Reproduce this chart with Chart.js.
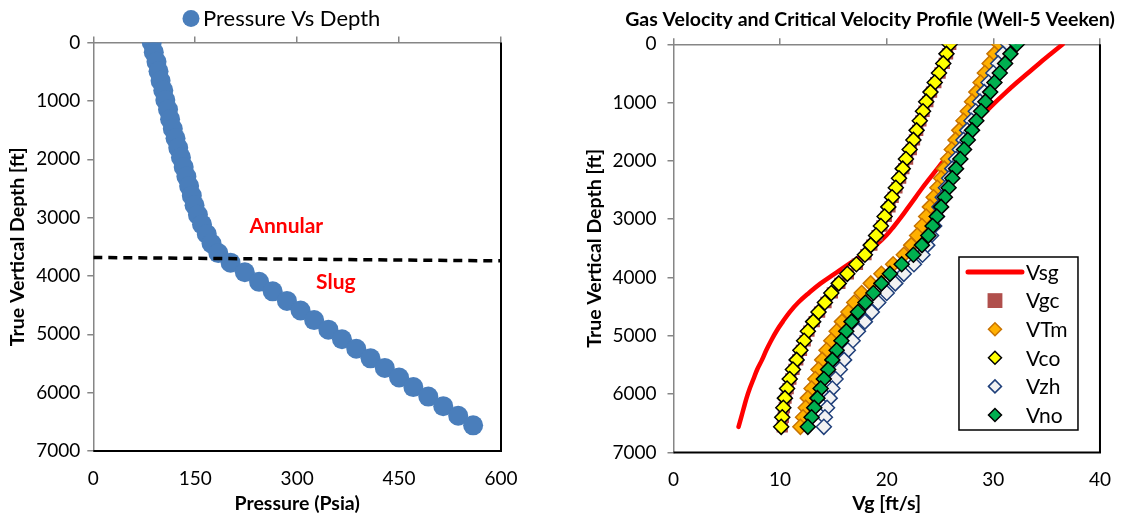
<!DOCTYPE html>
<html>
<head>
<meta charset="utf-8">
<script src="https://cdn.jsdelivr.net/npm/chart.js@4.4.0/dist/chart.umd.min.js"></script>
<style>
  body { margin: 0; background: #fff; }
  #wrap { position: relative; width: 1127px; height: 517px; }
  #wrap canvas { position: absolute; top: 0; }
  #pressChart { left: 0; }
  #velChart { left: 560px; }
</style>
</head>
<body>
<div id="wrap">
  <canvas id="pressChart" width="560" height="517"></canvas>
  <canvas id="velChart" width="567" height="517"></canvas>
</div>
<script>
// depth stations [ft], shared by both profiles
const depthFt = [0, 164, 328, 492, 656, 820, 984, 1148, 1312, 1476, 1640, 1804, 1968, 2132, 2296, 2460, 2624, 2788, 2952, 3116, 3280, 3444, 3608, 3772, 3936, 4100, 4264, 4428, 4592, 4756, 4920, 5084, 5248, 5412, 5576, 5740, 5904, 6068, 6232, 6396, 6560];

// pressure traverse [psia]
const pressurePsia = [86, 89, 93, 96, 99, 103, 106, 110, 113, 117, 121, 125, 129, 133, 137, 141, 145, 149, 154, 160, 167, 174, 184, 202, 223, 244, 264, 285, 305, 325, 346, 366, 387, 408, 429, 450, 471, 493, 515, 537, 559];

// annular / slug transition line
const regimeP = [0, 600];
const regimeD = [3683, 3741];

// gas velocity and critical velocities [ft/s]
const vsg = [36.5, 35.4, 34.3, 33.25, 32.2, 31.2, 30.25, 29.35, 28.5, 27.7, 26.95, 26.2, 25.45, 24.75, 24.05, 23.35, 22.7, 22.05, 21.4, 20.7, 19.95, 19.0, 17.8, 16.4, 15.1, 13.8, 12.7, 11.7, 10.9, 10.25, 9.65, 9.15, 8.7, 8.3, 7.85, 7.5, 7.15, 6.85, 6.6, 6.35, 6.1];
const vgc = [26.0, 25.7, 25.4, 25.0, 24.6, 24.2, 23.85, 23.5, 23.2, 22.9, 22.6, 22.3, 21.95, 21.6, 21.3, 20.95, 20.6, 20.3, 19.95, 19.55, 19.1, 18.6, 18.05, 17.25, 16.4, 15.6, 14.9, 14.3, 13.7, 13.2, 12.7, 12.35, 12.0, 11.65, 11.3, 11.0, 10.75, 10.55, 10.4, 10.3, 10.2];
const vtm = [30.55, 30.1, 29.65, 29.2, 28.8, 28.4, 28.0, 27.6, 27.2, 26.8, 26.45, 26.1, 25.75, 25.4, 25.1, 24.75, 24.4, 24.05, 23.7, 23.3, 22.85, 22.3, 21.6, 20.6, 19.5, 18.5, 17.65, 16.95, 16.4, 15.8, 15.3, 14.8, 14.35, 13.95, 13.6, 13.3, 12.95, 12.6, 12.4, 12.15, 11.9];
const vco = [25.9, 25.6, 25.3, 24.9, 24.5, 24.1, 23.7, 23.4, 23.1, 22.8, 22.5, 22.15, 21.8, 21.5, 21.15, 20.85, 20.5, 20.15, 19.8, 19.45, 19.0, 18.5, 17.95, 17.15, 16.3, 15.5, 14.8, 14.2, 13.6, 13.1, 12.6, 12.25, 11.9, 11.55, 11.2, 10.9, 10.65, 10.45, 10.3, 10.2, 10.1];
const vzh = [31.4, 30.9, 30.45, 30.0, 29.55, 29.15, 28.75, 28.35, 27.95, 27.55, 27.2, 26.85, 26.5, 26.15, 25.85, 25.55, 25.25, 24.95, 24.7, 24.45, 24.15, 23.8, 23.35, 22.55, 21.6, 20.8, 20.0, 19.2, 18.6, 17.95, 17.3, 16.8, 16.35, 16.0, 15.6, 15.2, 14.9, 14.65, 14.4, 14.2, 14.1];
const vno = [32.2, 31.6, 31.1, 30.6, 30.1, 29.7, 29.25, 28.85, 28.4, 28.0, 27.6, 27.25, 26.9, 26.5, 26.15, 25.8, 25.45, 25.1, 24.7, 24.3, 23.9, 23.3, 22.5, 21.4, 20.3, 19.5, 18.75, 18.0, 17.3, 16.7, 16.2, 15.75, 15.3, 14.9, 14.5, 14.1, 13.8, 13.5, 13.2, 12.95, 12.6];

// axis ranges and tick steps
const depthMax = 7000, depthStep = 1000;
const pressMax = 600, pressStep = 150;
const velMax = 40, velStep = 10;

const FONT = 'Lato, "Open Sans", sans-serif';
const AXIS_GREY = '#868686';

function pts(xs, ys) {
  return xs.map((x, i) => ({ x: x, y: ys[i] }));
}

// plain numbers, no thousands separator
const plain = v => String(v);

// black plot-area edge on the right and bottom
function plotEdge(chart) {
  const a = chart.chartArea, ctx = chart.ctx;
  ctx.save();
  ctx.strokeStyle = '#000';
  ctx.lineWidth = 2;
  ctx.beginPath();
  ctx.moveTo(a.right, a.top);
  ctx.lineTo(a.right, a.bottom);
  ctx.lineTo(a.left, a.bottom);
  ctx.stroke();
  ctx.restore();
}

function depthAxis(width, titlePad, tickPad) {
  return {
    reverse: true, min: 0, max: depthMax,
    ticks: { stepSize: depthStep, color: '#000', padding: tickPad, callback: plain,
             font: { family: FONT, size: 19 } },
    grid: { drawOnChartArea: false, tickLength: 6, color: AXIS_GREY, lineWidth: 1.5 },
    border: { color: AXIS_GREY, width: 1.5 },
    title: { display: true, text: 'True Vertical Depth [ft]', color: '#000',
             font: { family: FONT, size: 19.5, weight: 'bold' }, padding: { top: titlePad, bottom: 0 } },
    afterFit: s => { s.width = width; }
  };
}

function bottomAxis(max, step, title, height) {
  return {
    type: 'linear', position: 'bottom', min: 0, max: max,
    ticks: { stepSize: step, color: '#000', padding: 16, callback: plain,
             font: { family: FONT, size: 19 } },
    grid: { display: false, drawTicks: false },
    border: { display: false },
    title: { display: true, text: title, color: '#000',
             font: { family: FONT, size: 19.5, weight: 'bold' }, padding: { top: 0, bottom: 2 } },
    afterFit: s => { s.height = height; }
  };
}

// top axis only carries the line and the outward tick marks
function topAxis(max, step, height) {
  return {
    type: 'linear', position: 'top', min: 0, max: max,
    ticks: { stepSize: step, display: false },
    grid: { drawOnChartArea: false, tickLength: 6, color: AXIS_GREY, lineWidth: 1.5 },
    border: { color: AXIS_GREY, width: 1.5 },
    afterFit: s => { s.height = height; }
  };
}

// ---------- pressure vs depth ----------
const pressDecor = {
  id: 'pressDecor',
  afterDatasetsDraw(chart) {
    const ctx = chart.ctx, x = chart.scales.x, y = chart.scales.y;
    plotEdge(chart);
    ctx.save();
    ctx.fillStyle = '#FF0000';
    ctx.font = 'bold 21px ' + FONT;
    ctx.textAlign = 'center';
    ctx.textBaseline = 'middle';
    ctx.fillText('Annular', x.getPixelForValue(284), y.getPixelForValue(3150));
    ctx.fillText('Slug', x.getPixelForValue(357), y.getPixelForValue(4100));
    // legend entry
    const ds = chart.data.datasets[1];
    ctx.fillStyle = ds.backgroundColor;
    ctx.beginPath();
    ctx.arc(191, 18.5, 8.5, 0, Math.PI * 2);
    ctx.fill();
    ctx.fillStyle = '#000';
    ctx.font = '22px ' + FONT;
    ctx.textAlign = 'left';
    ctx.fillText(ds.label, 203, 19);
    ctx.restore();
  }
};

new Chart(document.getElementById('pressChart'), {
  type: 'scatter',
  data: {
    datasets: [
      {
        label: 'Regime boundary',
        data: pts(regimeP, regimeD),
        showLine: true,
        borderColor: '#000',
        borderWidth: 3.5,
        borderDash: [9, 6],
        pointRadius: 0
      },
      {
        label: 'Pressure Vs Depth',
        data: pts(pressurePsia, depthFt),
        backgroundColor: '#4A7EBB',
        borderColor: '#4A7EBB',
        borderWidth: 0,
        pointRadius: 10
      }
    ]
  },
  options: {
    responsive: false,
    animation: false,
    layout: { padding: { left: 0, right: 59, top: 0, bottom: 0 } },
    plugins: { legend: { display: false }, tooltip: { enabled: false } },
    scales: {
      x: bottomAxis(pressMax, pressStep, 'Pressure (Psia)', 66),
      xTop: topAxis(pressMax, pressStep, 42.6),
      y: depthAxis(93.3, 6, 7)
    }
  },
  plugins: [pressDecor]
});

// ---------- gas velocity vs critical velocity ----------
const velDecor = {
  id: 'velDecor',
  afterDatasetsDraw(chart) {
    const ctx = chart.ctx, a = chart.chartArea;
    plotEdge(chart);
    ctx.save();
    ctx.fillStyle = '#000';
    ctx.font = 'bold 19.5px ' + FONT;
    ctx.textAlign = 'center';
    ctx.textBaseline = 'middle';
    ctx.fillText('Gas Velocity and Critical Velocity Profile (Well-5 Veeken)', 310, 20);

    // legend box inside the plot
    const bx = a.right - 141, by = 257, bw = 119, bh = 173;
    ctx.fillStyle = '#fff';
    ctx.fillRect(bx, by, bw, bh);
    ctx.strokeStyle = '#000';
    ctx.lineWidth = 1.5;
    ctx.strokeRect(bx, by, bw, bh);
    ctx.font = '21px ' + FONT;
    ctx.textAlign = 'left';
    chart.data.datasets.forEach((ds, i) => {
      const ly = by + 15 + i * 28.6;
      if (ds.pointRadius === 0) {
        ctx.strokeStyle = ds.borderColor;
        ctx.lineWidth = 5;
        ctx.lineCap = 'round';
        ctx.beginPath();
        ctx.moveTo(bx + 9, ly);
        ctx.lineTo(bx + 63, ly);
        ctx.stroke();
      } else {
        ctx.fillStyle = ds.backgroundColor;
        ctx.strokeStyle = ds.borderColor;
        ctx.lineWidth = ds.borderWidth;
        Chart.helpers.drawPoint(ctx, { pointStyle: ds.pointStyle, radius: ds.pointStyle === 'rect' ? 10.5 : 6.5, borderWidth: ds.borderWidth, rotation: 0 }, bx + 36, ly);
      }
      ctx.fillStyle = '#000';
      ctx.fillText(ds.label, bx + 67, ly + 1);
    });
    ctx.restore();
  }
};

function markerSet(label, vals, style, fill, edge, order) {
  return {
    label: label,
    data: pts(vals, depthFt),
    pointStyle: style,
    pointRadius: style === 'rect' ? 8 : 7.5,
    backgroundColor: fill,
    borderColor: edge,
    borderWidth: style === 'rect' ? 0 : 1.5,
    order: order
  };
}

new Chart(document.getElementById('velChart'), {
  type: 'scatter',
  data: {
    datasets: [
      {
        label: 'Vsg',
        data: pts(vsg, depthFt),
        showLine: true,
        borderColor: '#FF0000',
        borderWidth: 4.5,
        borderCapStyle: 'round',
        tension: 0.4,
        pointRadius: 0,
        order: 6
      },
      markerSet('Vgc', vgc, 'rect', '#B04F4C', '#B04F4C', 5),
      markerSet('VTm', vtm, 'rectRot', '#FFB000', '#C87300', 4),
      markerSet('Vco', vco, 'rectRot', '#FFFF00', '#000000', 3),
      markerSet('Vzh', vzh, 'rectRot', '#F2F2F2', '#1F3F7A', 2),
      markerSet('Vno', vno, 'rectRot', '#00B050', '#000000', 1)
    ]
  },
  options: {
    responsive: false,
    animation: false,
    layout: { padding: { left: 0, right: 27, top: 0, bottom: 0 } },
    plugins: { legend: { display: false }, tooltip: { enabled: false } },
    scales: {
      x: bottomAxis(velMax, velStep, 'Vg [ft/s]', 64.5),
      xTop: topAxis(velMax, velStep, 44.3),
      y: depthAxis(113.5, 23, 11)
    }
  },
  plugins: [velDecor]
});
</script>
</body>
</html>
